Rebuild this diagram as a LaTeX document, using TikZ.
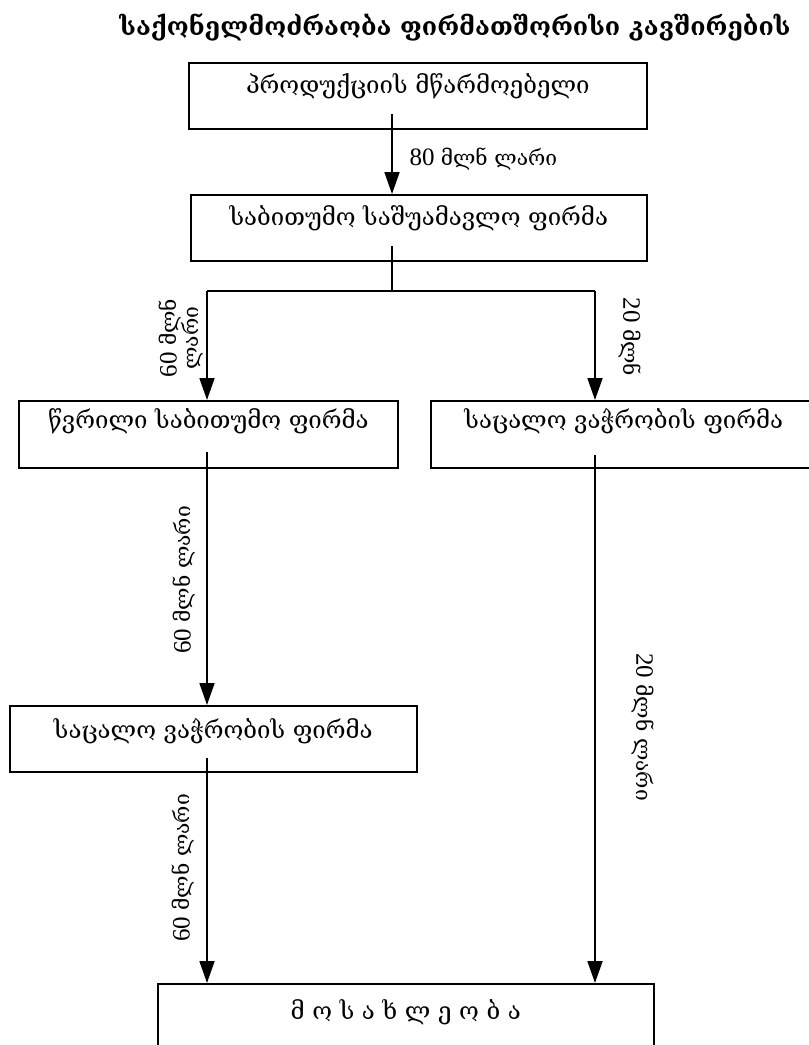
\documentclass[tikz,border=0pt]{standalone}
\usepackage{fontspec}
\setmainfont{Liberation Serif}
\newfontfamily\geo{DejaVu Serif}
\usetikzlibrary{arrows.meta}
\tikzset{
  firm/.style={draw, line width=1.6pt, anchor=north west, inner xsep=0pt, inner ysep=0pt,
    text height=31pt, text depth=35pt, font=\geo\fontsize{24}{28}\selectfont},
  flow/.style={line width=1.8pt, -{Triangle[length=22pt,width=15pt]}},
  plain/.style={line width=1.8pt},
  amount/.style={font=\fontsize{25}{27}\selectfont}
}
\newcommand{\mln}[1]{{\geo\fontsize{21}{24}\selectfont #1}}
\begin{document}
\begin{tikzpicture}[x=1pt,y=-1pt]
      \clip (0,0) rectangle (809,1045);
      \node[font=\geo\bfseries\fontsize{25}{29}\selectfont] (title) at (455,27)
        {საქონელმოძრაობა ფირმათშორისი კავშირების};
      \node[firm, minimum width=458pt] (prod) at (188,62) {პროდუქციის მწარმოებელი};
      \node[firm, minimum width=456pt] (whole) at (190,194) {საბითუმო საშუამავლო ფირმა};
      \node[firm, minimum width=379pt, text height=28pt, text depth=39pt] (small) at (18,400)
        {წვრილი საბითუმო ფირმა};
      \node[firm, minimum width=386pt, text height=28pt, text depth=39pt] (retA) at (430,400)
        {საცალო ვაჭრობის ფირმა};
      \node[firm, minimum width=407pt, text height=33pt, text depth=33pt] (retB) at (9,705)
        {საცალო ვაჭრობის ფირმა};
      \node[firm, minimum width=496pt, text height=36pt, text depth=70pt] (people) at (157,983)
        {მ ო ს ა ხ ლ ე ო ბ ა};
      \coordinate (p1) at (392,114);
      \coordinate (w1) at (392,246);
      \coordinate (fork) at (392,291);
      \coordinate (forkL) at (207,291);
      \coordinate (forkR) at (595,291);
      \coordinate (s1) at (207,452);
      \coordinate (r1) at (595,455);
      \coordinate (b1) at (207,758);
      \begin{scope}
        \draw[flow] (p1) to (p1 |- whole.north);
        \draw[plain] (w1) to (fork);
        \draw[plain] (forkL) to (forkR);
        \draw[flow] (forkL) to (forkL |- small.north);
        \draw[flow] (forkR) to (forkR |- retA.north);
        \draw[flow] (s1) to (s1 |- retB.north);
        \draw[flow] (r1) to (r1 |- people.north);
        \draw[flow] (b1) to (b1 |- people.north);
      \end{scope}
      \node[amount, anchor=west] (m80) at (406,159) {80 \mln{მლნ ლარი}};
      \node[amount, rotate=90, align=center] (m60a) at (181,338)
        {60 \mln{მლნ}\\[-5pt]\mln{ლარი}};
      \node[amount, rotate=-90] (m20a) at (630,337) {20 \mln{მლნ}};
      \node[amount, rotate=90] (m60b) at (184,580) {60 \mln{მლნ ლარი}};
      \node[amount, rotate=-90] (m20b) at (643,727) {20 \mln{მლნ ლარი}};
      \node[amount, rotate=90] (m60c) at (183,868) {60 \mln{მლნ ლარი}};
    \end{tikzpicture}
\end{document}
